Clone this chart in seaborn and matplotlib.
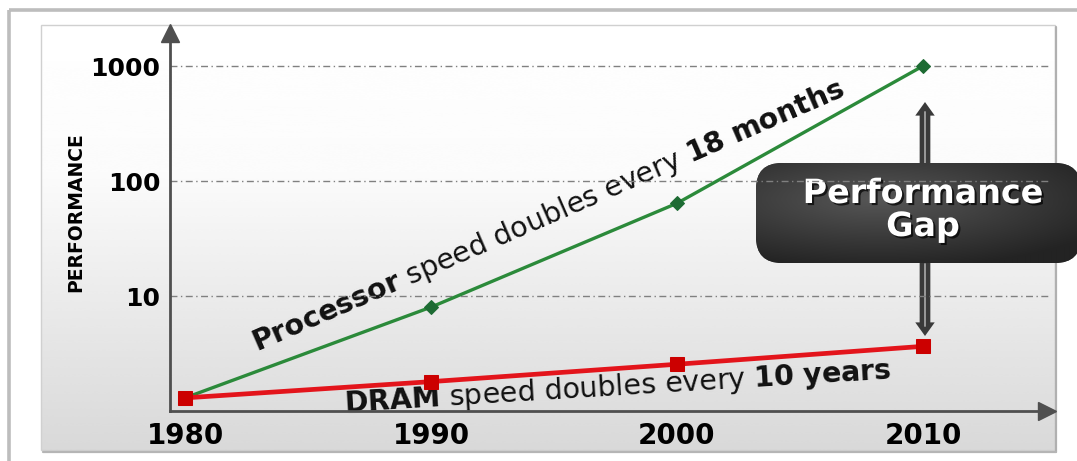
import numpy as np
import matplotlib
matplotlib.use("Agg")
import matplotlib.pyplot as plt
import matplotlib.patheffects as pe
from matplotlib.patches import Rectangle, FancyBboxPatch
from matplotlib.ticker import FixedLocator, NullLocator
import seaborn as sns

# --- data -------------------------------------------------------------
years = [1980, 1990, 2000, 2010]
year_labels = ["1980", "1990", "2000", "2010"]
processor_perf = [1.3, 8.0, 64.0, 1000.0]
dram_perf = [1.3, 1.8, 2.55, 3.65]
perf_ticks = [10, 100, 1000]
perf_labels = ["10", "100", "1000"]

sns.set_style("white")
plt.rcParams["font.family"] = ["DejaVu Sans"]
plt.rcParams["mathtext.fontset"] = "dejavusans"

W, H = 1077, 461
fig = plt.figure(figsize=(W / 100, H / 100), dpi=100)
fig.patch.set_facecolor("white")

# background layer in pixel coordinates
bg = fig.add_axes([0, 0, 1, 1])
bg.set_xlim(0, W)
bg.set_ylim(H, 0)
bg.axis("off")

# outer frame
bg.add_patch(Rectangle((9, 10), 1200, 600, fill=False, ec="#bdbdbd", lw=2.6))

# inner panel with vertical white-to-grey gradient
rows = np.linspace(0, 1, 200)
shade = np.interp(rows, [0.0, 0.35, 0.6, 1.0], [1.0, 0.985, 0.93, 0.85])
grad = np.repeat(shade[:, None], 2, axis=1)
bg.imshow(grad, extent=(41, 1055, 450, 25), cmap="gray", vmin=0, vmax=1,
          aspect="auto", interpolation="bicubic", zorder=1)
bg.add_patch(Rectangle((41, 25), 1014, 425, fill=False, ec="#d0d0d0", lw=1.0, zorder=2))
bg.plot([1056, 1056], [27, 452], color="#b0b0b0", lw=1.6, zorder=2)
bg.plot([43, 1056], [451.5, 451.5], color="#b5b5b5", lw=1.6, zorder=2)

# "Performance Gap" callout box with a soft dark gradient
bx, by, bw, bh = 756, 163, 325, 100
box = FancyBboxPatch((bx, by), bw, bh, boxstyle="round,pad=0,rounding_size=26",
                     fc="#333333", ec="none", zorder=5)
bg.add_patch(box)
gy, gx = np.mgrid[-1:1:100j, -1:1:200j]
radial = np.clip(1 - 0.8 * np.sqrt((gx * 0.8 + 0.2) ** 2 + (gy * 0.9 + 0.25) ** 2), 0, 1)
box_img = 0.14 + 0.2 * radial
im = bg.imshow(box_img, extent=(bx, bx + bw, by + bh, by), cmap="gray", vmin=0, vmax=1,
               aspect="auto", interpolation="bicubic", zorder=6)
im.set_clip_path(box)

shadow = [pe.withSimplePatchShadow(offset=(1.5, -1.5), shadow_rgbFace="black", alpha=0.7)]
bg.text(923, 203, "Performance", color="white", fontsize=24, fontweight="bold",
        ha="center", va="baseline", zorder=7, path_effects=shadow)
bg.text(923, 236, "Gap", color="white", fontsize=24, fontweight="bold",
        ha="center", va="baseline", zorder=7, path_effects=shadow)

# gap arrows above and below the box
arrow_style = "simple,head_length=0.7,head_width=1.0,tail_width=0.55"
for start, end in [((925, 164), (925, 102)), ((925, 262), (925, 336))]:
    bg.annotate("", xy=end, xytext=start, zorder=4,
                arrowprops=dict(arrowstyle=arrow_style, mutation_scale=14,
                                fc="#3a3a3a", ec="none", shrinkA=0, shrinkB=0))
bg.plot([925, 925], [112, 163], color="#9a9a9a", lw=1.4, zorder=4.5)
bg.plot([925, 925], [264, 326], color="#9a9a9a", lw=1.4, zorder=4.5)

# --- main chart axes ----------------------------------------------------
px_per_year = 24.6
px_per_decade = 115.0
ax = fig.add_axes([170 / W, (H - 411) / H, (1047 - 170) / W, (411 - 33) / H])
ax.patch.set_alpha(0)
ax.set_zorder(3)

sns.lineplot(x=years, y=processor_perf, ax=ax, color="#2b8a3a", lw=2.4,
             marker="D", markersize=7, markerfacecolor="#1d6b33",
             markeredgecolor="#1d6b33", zorder=3)
sns.lineplot(x=years, y=dram_perf, ax=ax, color="#e3141b", lw=3.4,
             marker="s", markersize=10, markerfacecolor="#cc0000",
             markeredgecolor="#cc0000", zorder=4)

ax.set_yscale("log")
ax.set_xlim(1980 - 15 / px_per_year, 1980 + (1047 - 185) / px_per_year)
ax.set_ylim(1, 10 ** ((411 - 33) / px_per_decade))

ax.yaxis.set_major_locator(FixedLocator(perf_ticks))
ax.yaxis.set_minor_locator(NullLocator())
ax.set_yticklabels(perf_labels, fontsize=18, fontweight="bold", color="black")
ax.set_xticks(years)
ax.set_xticklabels(year_labels, fontsize=20, fontweight="bold", color="black")
ax.tick_params(axis="both", length=0)
ax.tick_params(axis="y", pad=7)
ax.tick_params(axis="x", pad=8)

for y in perf_ticks:
    ax.axhline(y, xmin=0, xmax=1.003, color="#808080", lw=1.0,
               dashes=(5, 2.5, 1, 2.5), clip_on=False, zorder=1)

for side in ["top", "right"]:
    ax.spines[side].set_visible(False)
for side in ["left", "bottom"]:
    ax.spines[side].set_color("#4f4f4f")
    ax.spines[side].set_linewidth(2.0)
ax.plot(1, 0, ">", color="#4f4f4f", markersize=13, transform=ax.transAxes, clip_on=False)
ax.plot(0, 1, "^", color="#4f4f4f", markersize=13, transform=ax.transAxes, clip_on=False)

ax.set_ylabel("PERFORMANCE", fontsize=13.5, fontweight="bold", va="center", color="black")
ax.yaxis.set_label_coords(-0.108, 0.526)
ax.set_xlabel("")

# rotated captions along each series
bg.text(549, 216, r"$\mathbf{Processor}$ speed doubles every $\mathbf{18\ months}$",
        fontsize=20.5, rotation=23.5, rotation_mode="anchor", ha="center", va="center",
        color="#111111", zorder=8)
bg.text(618, 387, r"$\mathbf{DRAM}$ speed doubles every $\mathbf{10\ years}$",
        fontsize=20.5, rotation=3.5, rotation_mode="anchor", ha="center", va="center",
        color="#111111", zorder=8)

fig.savefig("out.png", dpi=100)
